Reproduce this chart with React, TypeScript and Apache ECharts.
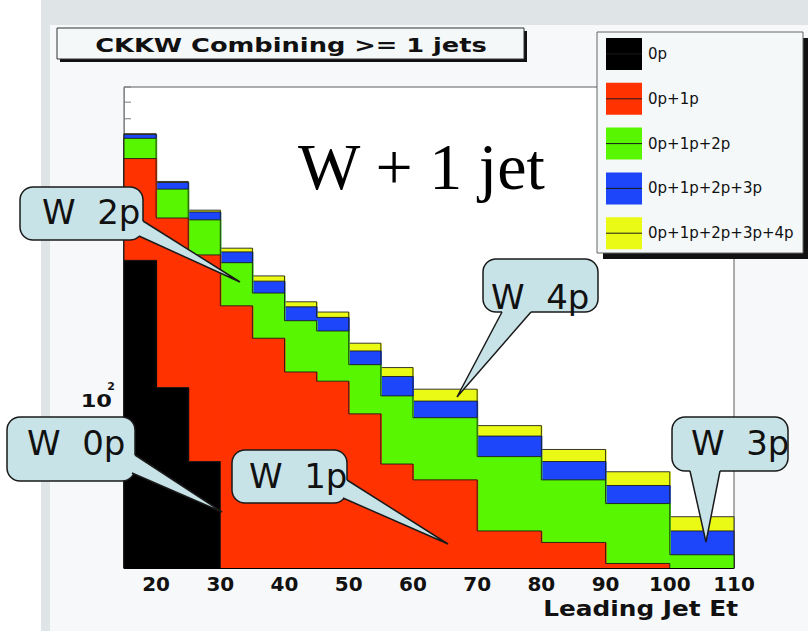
import React, { useEffect, useRef } from 'react';
import * as echarts from 'echarts';

// Leading jet Et bins (GeV): width 5 up to 60, width 10 above
const binEdges = [15, 20, 25, 30, 35, 40, 45, 50, 55, 60, 70, 80, 90, 100, 110];

// Cumulative histograms: each one adds the next parton multiplicity sample
const hist0p = [222, 107, 70, 0, 0, 0, 0, 0, 0, 0, 0, 0, 0, 0];
const hist01p = [398, 283, 229, 171, 142, 117, 111, 92, 69, 63, 47, 44, 39, 0];
const hist012p = [447, 334, 280, 219, 184, 157, 148, 122, 102, 90, 72, 63, 55, 41];
const hist0123p = [457, 347, 293, 233, 197, 170, 160, 132, 114, 99, 81, 70, 61, 47];
const hist01234p = [459, 349, 296, 238, 203, 175, 165, 138, 120, 106, 86, 75, 66, 51];

const legendLabels = ['0p', '0p+1p', '0p+1p+2p', '0p+1p+2p+3p', '0p+1p+2p+3p+4p'];
const histColors = ['#000000', '#ff3200', '#58f600', '#1d46fa', '#ebfa14'];

const xTickLabels = [20, 30, 40, 50, 60, 70, 80, 90, 100, 110];
const yMinorTicks = [40, 50, 60, 70, 80, 90, 100, 200, 300, 400, 500, 550, 600];

const Y_MIN = 38;
const Y_MAX = 600;

const OUTLINE = '#161616';
const BALLOON_FILL = '#c7e3e8';

function histSeries(name: string, values: number[], color: string) {
  const data: number[][] = [];
  values.forEach((v, i) => {
    if (v > 0) data.push([binEdges[i], binEdges[i + 1], v, i + 1 < values.length ? values[i + 1] : 0]);
  });
  const lastEdge = binEdges[binEdges.length - 1];
  return {
    type: 'custom',
    name,
    data,
    encode: { x: [0, 1], y: 2 },
    renderItem: (_params: any, api: any) => {
      const x0 = api.value(0);
      const x1 = api.value(1);
      const v = api.value(2);
      const vn = api.value(3);
      const tl = api.coord([x0, v]);
      const tr = api.coord([x1, v]);
      const base = api.coord([x0, Y_MIN])[1];
      const nextY = vn > 0 ? api.coord([x1, vn])[1] : base;
      const pts: number[][] = [];
      if (x0 === binEdges[0]) pts.push([tl[0], base]);
      pts.push([tl[0], tl[1]], [tr[0], tr[1]], [tr[0], nextY]);
      // overlap into the following bin so no anti-aliasing seam shows between bins
      const overlap = x1 < lastEdge && vn > 0 ? 1 : 0;
      return {
        type: 'group',
        children: [
          {
            type: 'rect',
            shape: { x: tl[0], y: tl[1], width: tr[0] - tl[0] + overlap, height: base - tl[1] },
            style: { fill: color },
          },
          {
            type: 'polyline',
            shape: { points: pts },
            style: { stroke: OUTLINE, lineWidth: 1, fill: 'none', opacity: 0.85 },
          },
        ],
      };
    },
  };
}

type Balloon = {
  text: string;
  box: [number, number, number, number];
  textAt: [number, number];
  tail: [number, number][]; // base1, tip, base2
  inner: [number, number][]; // points inside the box behind each base
};

const balloons: Balloon[] = [
  { text: 'W  2p', box: [20, 187, 143, 240], textAt: [42, 212], tail: [[143, 221], [240, 282], [139, 236]], inner: [[134, 221], [131, 232]] },
  { text: 'W  4p', box: [483, 259, 598, 312], textAt: [491, 297], tail: [[502, 312], [457, 397], [531, 312]], inner: [[502, 305], [531, 305]] },
  { text: 'W  0p', box: [7, 417, 135, 481], textAt: [27, 443], tail: [[135, 455], [222, 512], [132, 473]], inner: [[127, 455], [125, 470]] },
  { text: 'W  1p', box: [232, 450, 347, 503], textAt: [249, 476], tail: [[347, 480], [448, 544], [343, 498]], inner: [[339, 480], [336, 494]] },
  { text: 'W  3p', box: [672, 417, 788, 471], textAt: [691, 443], tail: [[690, 471], [706, 542], [720, 471]], inner: [[690, 464], [720, 464]] },
];

function balloonGraphic(b: Balloon) {
  const [x0, y0, x1, y1] = b.box;
  const [b1, tip, b2] = b.tail;
  return [
    {
      type: 'rect', z: 40,
      shape: { x: x0, y: y0, width: x1 - x0, height: y1 - y0, r: 13 },
      style: { fill: BALLOON_FILL, stroke: '#1a1a1a', lineWidth: 1.5 },
    },
    {
      type: 'polygon', z: 41,
      shape: { points: [b.inner[0], b1, tip, b2, b.inner[1]] },
      style: { fill: BALLOON_FILL },
    },
    {
      type: 'polyline', z: 42,
      shape: { points: [b1, tip, b2] },
      style: { stroke: '#1a1a1a', lineWidth: 1.5, fill: 'none' },
    },
    {
      type: 'text', z: 43, x: b.textAt[0], y: b.textAt[1],
      style: {
        text: b.text, fill: '#111', fontFamily: 'DejaVu Sans', fontSize: 34,
        align: 'left', verticalAlign: 'middle',
      },
    },
  ];
}

export default function App() {
  const ref = useRef<HTMLDivElement>(null);

  useEffect(() => {
    const chart = echarts.init(ref.current!, undefined, { renderer: 'svg' });
    const cumulative = [hist0p, hist01p, hist012p, hist0123p, hist01234p];
    // draw the widest sum first so each smaller sum paints over it
    const series = [4, 3, 2, 1, 0].map((i) => histSeries(legendLabels[i], cumulative[i], histColors[i]));

    chart.setOption({
      animation: false,
      grid: {
        left: 124, top: 87, width: 610, height: 481,
        show: true, backgroundColor: '#ffffff', borderColor: '#5c5c5c', borderWidth: 1,
      },
      xAxis: {
        type: 'value', min: 15, max: 110,
        axisLine: { show: true, lineStyle: { color: '#000', width: 1 } },
        axisTick: { show: false },
        splitLine: { show: false },
        axisLabel: {
          customValues: xTickLabels,
          color: '#111', fontFamily: 'DejaVu Sans', fontWeight: 'bold', fontSize: 20, margin: 6,
        },
      },
      yAxis: {
        type: 'log', logBase: 10, min: Y_MIN, max: Y_MAX,
        axisLine: { show: true, lineStyle: { color: '#8a8a8a', width: 1 } },
        axisTick: { show: false },
        axisLabel: { show: false },
        splitLine: { show: false },
      },
      series,
    });

    const px = (x: number, y: number) =>
      chart.convertToPixel({ xAxisIndex: 0, yAxisIndex: 0 }, [x, y]) as number[];

    const graphics: any[] = [];

    // log-axis tick marks, inside the frame (mostly hidden by the histograms)
    yMinorTicks.forEach((v) => {
      const p = px(binEdges[0], v);
      graphics.push({
        type: 'line', z: 1,
        shape: { x1: p[0], y1: p[1], x2: p[0] + (v === 100 ? 12 : 7), y2: p[1] },
        style: { stroke: '#7a7a7a', lineWidth: 1 },
      });
    });

    // 10^2 axis label
    const p100 = px(binEdges[0], 100);
    graphics.push({
      type: 'text', z: 30, x: p100[0] - 12, y: p100[1] + 1, scaleX: 1.25,
      style: { text: '10', align: 'right', verticalAlign: 'middle', fill: '#111', fontFamily: 'DejaVu Sans', fontWeight: 'bold', fontSize: 18 },
    });
    graphics.push({
      type: 'text', z: 30, x: p100[0] - 9, y: p100[1] - 13,
      style: { text: '2', align: 'right', verticalAlign: 'middle', fill: '#111', fontFamily: 'DejaVu Sans', fontWeight: 'bold', fontSize: 11 },
    });

    // x-axis title
    graphics.push({
      type: 'text', z: 30, x: 738, y: 609, scaleX: 1.18,
      style: { text: 'Leading Jet Et', align: 'right', verticalAlign: 'middle', fill: '#111', fontFamily: 'DejaVu Sans', fontWeight: 'bold', fontSize: 21 },
    });

    // title box
    graphics.push(
      { type: 'rect', z: 30, shape: { x: 60, y: 31, width: 467, height: 31 }, style: { fill: '#111' } },
      { type: 'rect', z: 31, shape: { x: 57, y: 28, width: 467, height: 31 }, style: { fill: '#f5f8f9', stroke: '#333', lineWidth: 1 } },
      {
        type: 'text', z: 32, x: 291, y: 45, scaleX: 1.285,
        style: { text: 'CKKW Combining >= 1 jets', align: 'center', verticalAlign: 'middle', fill: '#111', fontFamily: 'DejaVu Sans', fontWeight: 'bold', fontSize: 20 },
      },
    );

    // big caption
    graphics.push({
      type: 'text', z: 30, x: 298, y: 166,
      style: { text: 'W + 1 jet', align: 'left', verticalAlign: 'middle', fill: '#000', fontFamily: 'Liberation Serif', fontSize: 66 },
    });

    // legend box
    graphics.push(
      { type: 'rect', z: 30, shape: { x: 603, y: 38, width: 210, height: 221 }, style: { fill: '#111' } },
      { type: 'rect', z: 31, shape: { x: 597, y: 32, width: 206, height: 221 }, style: { fill: '#f5f8f9', stroke: '#666', lineWidth: 1 } },
    );
    legendLabels.forEach((label, i) => {
      const top = 38 + i * 44.8;
      graphics.push(
        { type: 'rect', z: 32, shape: { x: 606, y: top, width: 36, height: 32 }, style: { fill: histColors[i] } },
        { type: 'line', z: 33, shape: { x1: 606, y1: top + 16, x2: 642, y2: top + 16 }, style: { stroke: '#1a1a1a', lineWidth: 1 } },
        {
          type: 'text', z: 33, x: 648, y: top + 16,
          style: { text: label, align: 'left', verticalAlign: 'middle', fill: '#111', fontFamily: 'DejaVu Sans', fontSize: 15 },
        },
      );
    });

    balloons.forEach((b) => graphics.push(...balloonGraphic(b)));

    chart.setOption({ graphic: graphics });

    return () => chart.dispose();
  }, []);

  return (
    <div style={{ position: 'fixed', left: 0, top: 0, width: 808, height: 631, background: '#ffffff', overflow: 'hidden' }}>
      <div style={{ position: 'absolute', left: 41, top: 0, width: 767, height: 25, background: '#dfe5e6' }} />
      <div style={{ position: 'absolute', left: 41, top: 25, width: 9, height: 606, background: '#dfe5e6' }} />
      <div style={{ position: 'absolute', left: 50, top: 25, width: 758, height: 606, background: '#f6f8f9' }} />
      <div ref={ref} style={{ position: 'absolute', left: 0, top: 0, width: 808, height: 631 }} />
    </div>
  );
}
